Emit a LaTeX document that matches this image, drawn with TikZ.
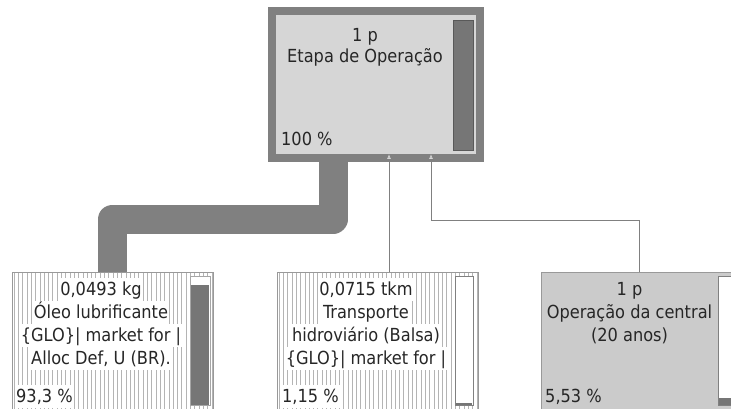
\documentclass[tikz,border=0pt]{standalone}
\usepackage{fontspec}
\setmainfont{DejaVu Sans Condensed}
\usetikzlibrary{arrows.meta}
\definecolor{flowgray}{HTML}{808080}
\definecolor{boxlight}{HTML}{D6D6D6}
\definecolor{bardark}{HTML}{767676}
\definecolor{unitgray}{HTML}{CBCBCB}
\definecolor{hatchgray}{HTML}{B4B4B4}
\begin{document}
\begin{tikzpicture}[x=1pt, y=-1pt,
    lbl/.style={font=\fontsize{18}{22}\selectfont, text=black!85, inner sep=0pt},
    wlbl/.style={lbl, fill=white, inner xsep=1pt, text height=17pt, text depth=6pt},
    procbox/.style={draw=flowgray, line width=8pt, fill=boxlight, outer sep=0pt, minimum width=208pt, minimum height=147pt},
    unitbox/.style={draw=flowgray!80, line width=0.8pt, outer sep=0pt, minimum width=201pt, minimum height=137pt},
    hatched/.style={path picture={\foreach \i in {0,...,46}
        \draw[hatchgray, line width=0.5pt] ([xshift=2pt+\i*4.3pt]path picture bounding box.south west) -- ++(0,150pt);}},
    bigflow/.style={flowgray, line width=29pt, line join=round, -{Triangle[length=8pt,width=35pt]}, shorten >=-4pt},
    link/.style={flowgray, line width=0.8pt, -{Latex[open,length=5pt,width=4pt,color=boxlight]}, shorten >=-4pt}
]
\clip (0,0) rectangle (731,409);

% process on top
\node [procbox] (etapa) at (376,84.5) {};
\filldraw [fill=bardark, draw=black!65, line width=0.8pt] (453,20) rectangle (473,150);
\node [lbl, anchor=base] (etapa1) at (365,42) {1 p};
\node [lbl, anchor=base] (etapa2) at (365,63) {Etapa de Operação};
\node [lbl, anchor=base west] (etapa3) at (281,146) {100 \%};

% inputs
\node [unitbox, hatched, fill=white] (oleo) at (112.5,340.5) {};
\node [unitbox, hatched, fill=white] (transp) at (377.5,340.5) {};
\node [unitbox, fill=unitgray] (central) at (641.5,340.5) {};

\filldraw [fill=white, draw=flowgray!70, line width=0.8pt] (190,276) rectangle (210,405);
\fill [bardark] (191,285) rectangle (209,405);
\filldraw [fill=white, draw=flowgray, line width=0.8pt] (455,276) rectangle (473,405);
\fill [bardark] (456,403) rectangle (472,405);
\filldraw [fill=white, draw=flowgray, line width=0.8pt] (718,276) rectangle (738,405);
\fill [bardark] (719,398) rectangle (737,405);

\node [wlbl, anchor=base] (oleo1) at (101,295) {0,0493 kg};
\node [wlbl, anchor=base] (oleo2) at (101,318) {Óleo lubrificante};
\node [wlbl, anchor=base] (oleo3) at (101,341) {\{GLO\}| market for |};
\node [wlbl, anchor=base] (oleo4) at (101,364) {Alloc Def, U (BR).};
\node [wlbl, anchor=base west] (oleo5) at (15,402) {93,3 \%};

\node [wlbl, anchor=base] (transp1) at (366,295) {0,0715 tkm};
\node [wlbl, anchor=base] (transp2) at (366,318) {Transporte};
\node [wlbl, anchor=base] (transp3) at (366,341) {hidroviário (Balsa)};
\node [wlbl, anchor=base] (transp4) at (366,364) {\{GLO\}| market for |};
\node [wlbl, anchor=base west] (transp5) at (281,402) {1,15 \%};

\node [lbl, anchor=base] (central1) at (629.5,295) {1 p};
\node [lbl, anchor=base] (central2) at (629.5,318) {Operação da central};
\node [lbl, anchor=base] (central3) at (629.5,341) {(20 anos)};
\node [lbl, anchor=base west] (central4) at (545,402) {5,53 \%};

% flows
\coordinate (bend1) at (0,219);
\coordinate (bend2) at (0,220);
\draw [bigflow] (oleo.north) -- (oleo.north |- bend1) -| ([xshift=-43pt]etapa.south);
\draw [link] ([xshift=11.5pt]transp.north) -- ([xshift=13pt]etapa.south);
\draw [link] ([xshift=-2.5pt]central.north) -- ([xshift=-2.5pt]central.north |- bend2) -| ([xshift=55pt]etapa.south);

\end{tikzpicture}
\end{document}
